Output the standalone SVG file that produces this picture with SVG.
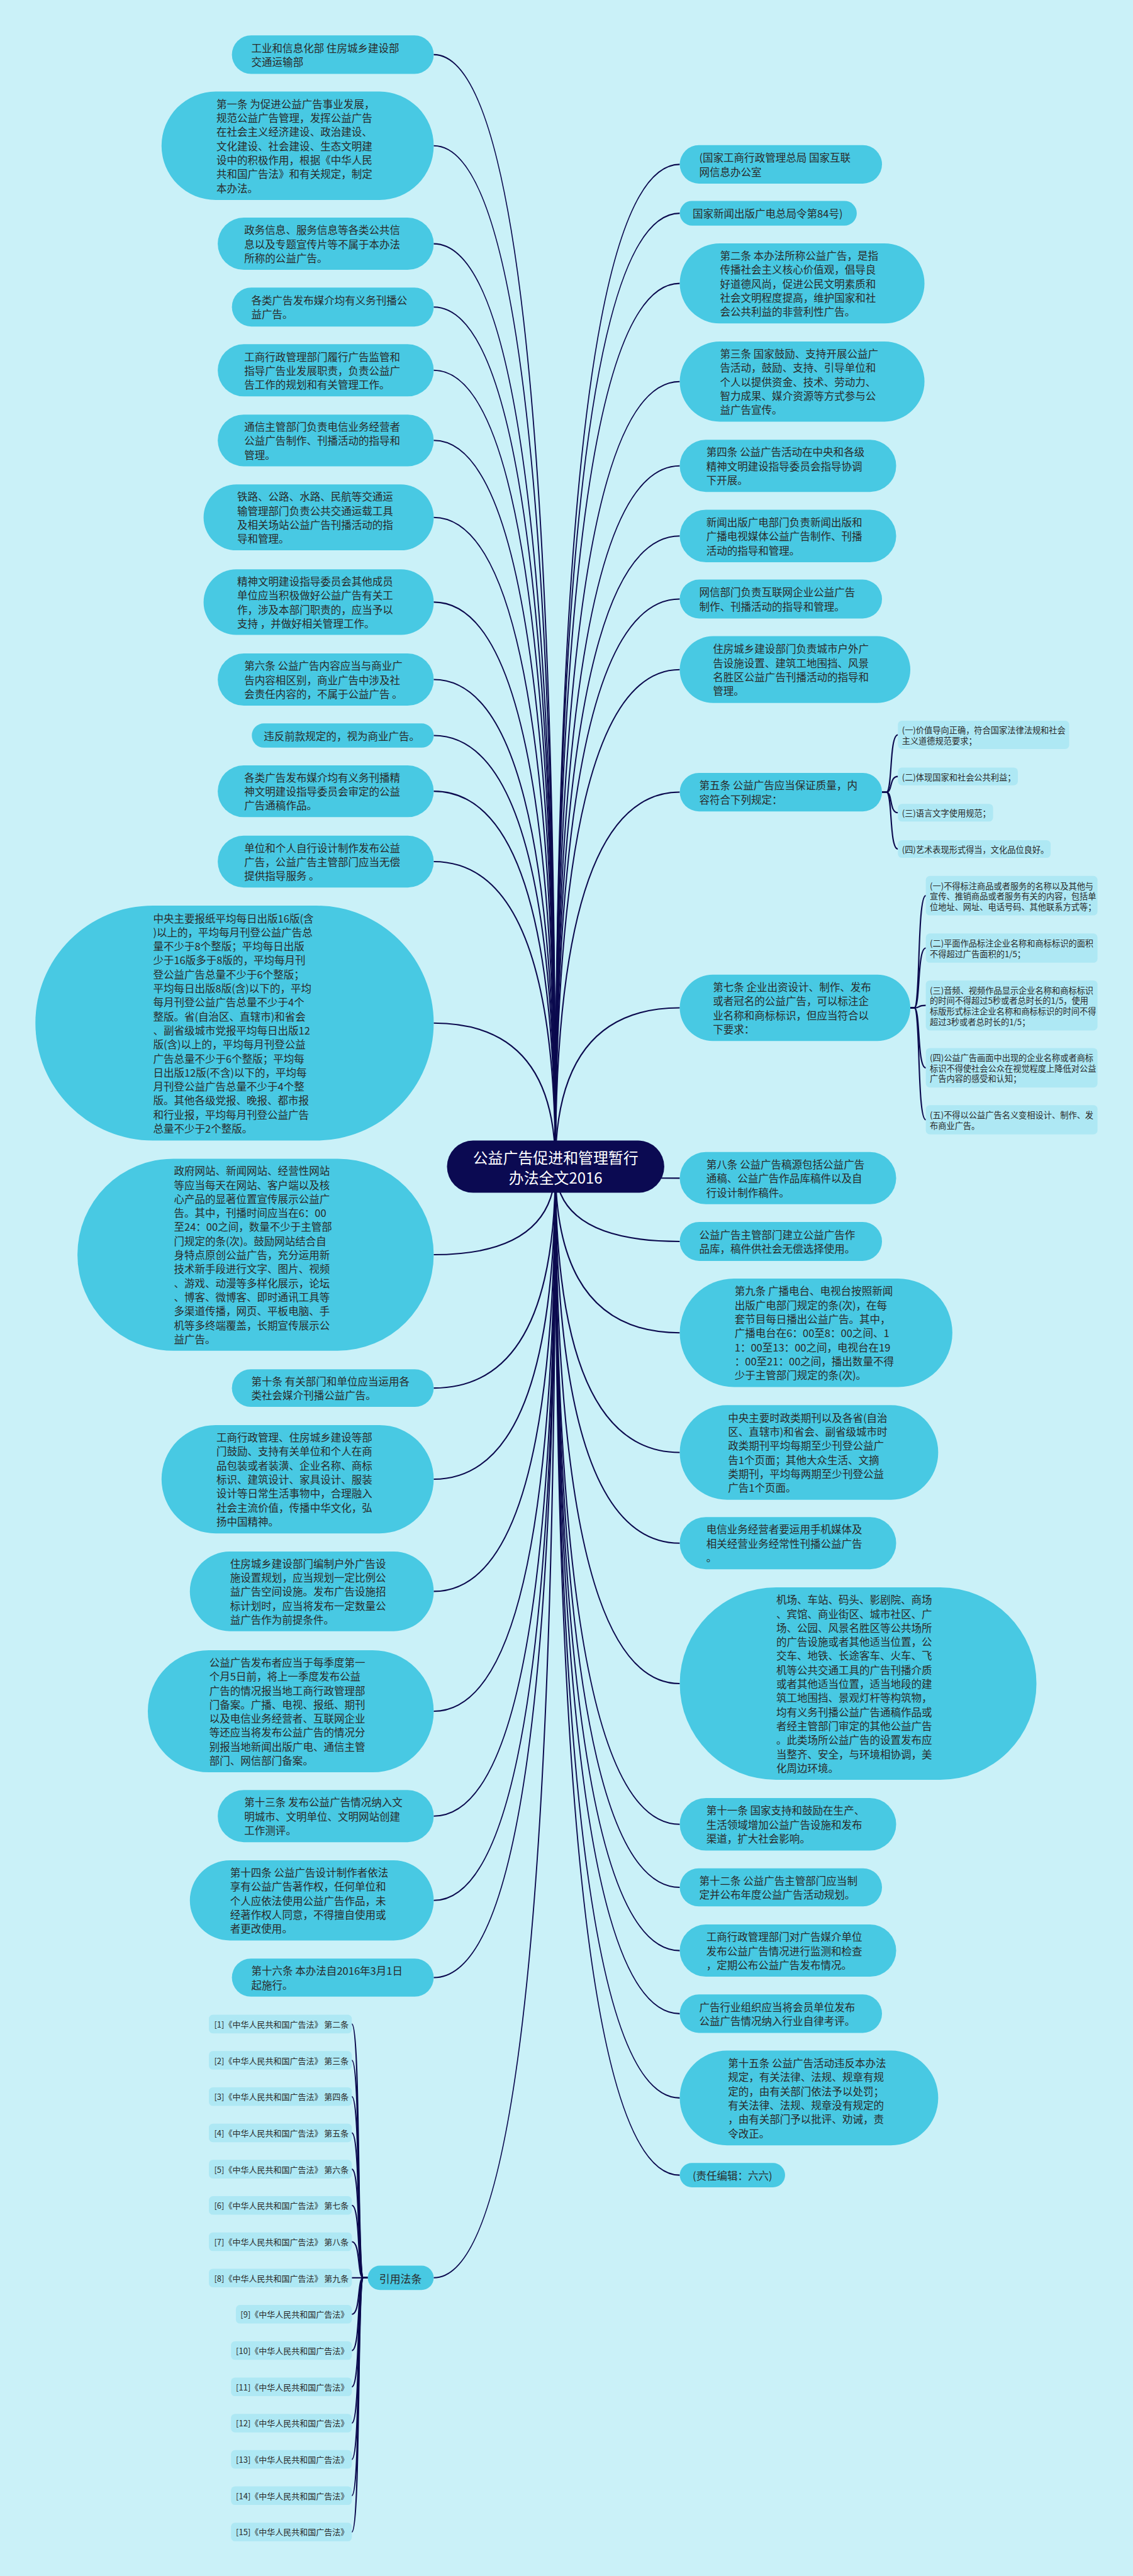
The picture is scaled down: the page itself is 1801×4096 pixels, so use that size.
<svg xmlns="http://www.w3.org/2000/svg" width="1801" height="4096" viewBox="0 0 1801 4096">
<style>
.bg{fill:#caf1f8}
.n{fill:#48c9e3}
.s{fill:#aee8f4}
.cn{fill:#0b0a52}
.t{font-family:"Noto Sans CJK SC","Noto Sans",sans-serif;font-size:23.5px;fill:#2a2a2a;dominant-baseline:central}
.st{font-size:18.8px}
.ct{font-size:18.5px;text-anchor:end}
.ctr{font-family:"Noto Sans CJK SC","Noto Sans",sans-serif;font-size:34px;fill:#ffffff;text-anchor:middle;dominant-baseline:central}
.c{fill:none;stroke:#0b0a4e;stroke-width:3}
</style>
<rect class="bg" x="0" y="0" width="1801" height="4096"/>
<g transform="scale(0.70347)">
<g id="connectors">
<path class="c" d="M1255,2636 Q1255,123.5 980,123.5"/>
<path class="c" d="M1255,2636 Q1255,329.5 980,329.5"/>
<path class="c" d="M1255,2636 Q1255,551 980,551"/>
<path class="c" d="M1255,2636 Q1255,694 980,694"/>
<path class="c" d="M1255,2636 Q1255,837 980,837"/>
<path class="c" d="M1255,2636 Q1255,995.5 980,995.5"/>
<path class="c" d="M1255,2636 Q1255,1169.5 980,1169.5"/>
<path class="c" d="M1255,2636 Q1255,1361 980,1361"/>
<path class="c" d="M1255,2636 Q1255,1536 980,1536"/>
<path class="c" d="M1255,2636 Q1255,1662.5 980,1662.5"/>
<path class="c" d="M1255,2636 Q1255,1788.5 980,1788.5"/>
<path class="c" d="M1255,2636 Q1255,1947.5 980,1947.5"/>
<path class="c" d="M1255,2636 Q1255,2312.5 980,2312.5"/>
<path class="c" d="M1255,2636 Q1255,2836 980,2836"/>
<path class="c" d="M1255,2636 Q1255,3137.5 980,3137.5"/>
<path class="c" d="M1255,2636 Q1255,3343.5 980,3343.5"/>
<path class="c" d="M1255,2636 Q1255,3597 980,3597"/>
<path class="c" d="M1255,2636 Q1255,3868 980,3868"/>
<path class="c" d="M1255,2636 Q1255,4105 980,4105"/>
<path class="c" d="M1255,2636 Q1255,4295.5 980,4295.5"/>
<path class="c" d="M1255,2636 Q1255,4470 980,4470"/>
<path class="c" d="M1255,2636 Q1255,5148.5 980,5148.5"/>
<path class="c" d="M1255,2636 Q1255,371.5 1536,371.5"/>
<path class="c" d="M1255,2636 Q1255,482 1536,482"/>
<path class="c" d="M1255,2636 Q1255,640.5 1536,640.5"/>
<path class="c" d="M1255,2636 Q1255,862.5 1536,862.5"/>
<path class="c" d="M1255,2636 Q1255,1053 1536,1053"/>
<path class="c" d="M1255,2636 Q1255,1211.5 1536,1211.5"/>
<path class="c" d="M1255,2636 Q1255,1354 1536,1354"/>
<path class="c" d="M1255,2636 Q1255,1513.5 1536,1513.5"/>
<path class="c" d="M1255,2636 Q1255,1790.5 1536,1790.5"/>
<path class="c" d="M1255,2636 Q1255,2278 1536,2278"/>
<path class="c" d="M1255,2636 Q1255,2663 1536,2663"/>
<path class="c" d="M1255,2636 Q1255,2806 1536,2806"/>
<path class="c" d="M1255,2636 Q1255,3012.5 1536,3012.5"/>
<path class="c" d="M1255,2636 Q1255,3283 1536,3283"/>
<path class="c" d="M1255,2636 Q1255,3488 1536,3488"/>
<path class="c" d="M1255,2636 Q1255,3805.5 1536,3805.5"/>
<path class="c" d="M1255,2636 Q1255,4123.5 1536,4123.5"/>
<path class="c" d="M1255,2636 Q1255,4266 1536,4266"/>
<path class="c" d="M1255,2636 Q1255,4409 1536,4409"/>
<path class="c" d="M1255,2636 Q1255,4551.5 1536,4551.5"/>
<path class="c" d="M1255,2636 Q1255,4742 1536,4742"/>
<path class="c" d="M1255,2636 Q1255,4916.5 1536,4916.5"/>
<path class="c" d="M1993,1790.5 L2003,1790.5 C2017,1790.5 2009,1661 2029,1661"/>
<path class="c" d="M1993,1790.5 L2003,1790.5 C2017,1790.5 2009,1755 2029,1755"/>
<path class="c" d="M1993,1790.5 L2003,1790.5 C2017,1790.5 2009,1837 2029,1837"/>
<path class="c" d="M1993,1790.5 L2003,1790.5 C2017,1790.5 2009,1919 2029,1919"/>
<path class="c" d="M2057,2278 L2066,2278 C2080,2278 2072,2024.5 2092,2024.5"/>
<path class="c" d="M2057,2278 L2066,2278 C2080,2278 2072,2143 2092,2143"/>
<path class="c" d="M2057,2278 L2066,2278 C2080,2278 2072,2272.5 2092,2272.5"/>
<path class="c" d="M2057,2278 L2066,2278 C2080,2278 2072,2413.5 2092,2413.5"/>
<path class="c" d="M2057,2278 L2066,2278 C2080,2278 2072,2531 2092,2531"/>
<path class="c" d="M831,5148.5 L821,5148.5 C807,5148.5 815,4575 795,4575"/>
<path class="c" d="M831,5148.5 L821,5148.5 C807,5148.5 815,4657 795,4657"/>
<path class="c" d="M831,5148.5 L821,5148.5 C807,5148.5 815,4739 795,4739"/>
<path class="c" d="M831,5148.5 L821,5148.5 C807,5148.5 815,4821 795,4821"/>
<path class="c" d="M831,5148.5 L821,5148.5 C807,5148.5 815,4903 795,4903"/>
<path class="c" d="M831,5148.5 L821,5148.5 C807,5148.5 815,4985 795,4985"/>
<path class="c" d="M831,5148.5 L821,5148.5 C807,5148.5 815,5067 795,5067"/>
<path class="c" d="M831,5148.5 L795,5148.5"/>
<path class="c" d="M831,5148.5 L821,5148.5 C807,5148.5 815,5231 795,5231"/>
<path class="c" d="M831,5148.5 L821,5148.5 C807,5148.5 815,5313 795,5313"/>
<path class="c" d="M831,5148.5 L821,5148.5 C807,5148.5 815,5395 795,5395"/>
<path class="c" d="M831,5148.5 L821,5148.5 C807,5148.5 815,5477 795,5477"/>
<path class="c" d="M831,5148.5 L821,5148.5 C807,5148.5 815,5559 795,5559"/>
<path class="c" d="M831,5148.5 L821,5148.5 C807,5148.5 815,5641 795,5641"/>
<path class="c" d="M831,5148.5 L821,5148.5 C807,5148.5 815,5723 795,5723"/>
</g>

<g id="center"><rect class="cn" x="1010" y="2578" width="491" height="118" rx="59"/>
<text class="ctr"><tspan x="1255.5" y="2614">公益广告促进和管理暂行</tspan><tspan x="1255.5" y="2660">办法全文2016</tspan></text></g>

<g id="L1"><rect class="n" x="524" y="80" width="456" height="87" rx="43.5"/><text class="t"><tspan x="568" y="107.6">工业和信息化部 住房城乡建设部</tspan><tspan x="568" y="139.4">交通运输部</tspan></text></g>
<g id="L2"><rect class="n" x="365" y="207" width="615" height="245" rx="122.5"/><text class="t"><tspan x="489" y="234.4">第一条 为促进公益广告事业发展，</tspan><tspan x="489" y="266.1">规范公益广告管理，发挥公益广告</tspan><tspan x="489" y="297.8">在社会主义经济建设、政治建设、</tspan><tspan x="489" y="329.5">文化建设、社会建设、生态文明建</tspan><tspan x="489" y="361.2">设中的积极作用，根据《中华人民</tspan><tspan x="489" y="392.9">共和国广告法》和有关规定，制定</tspan><tspan x="489" y="424.6">本办法。</tspan></text></g>
<g id="L3"><rect class="n" x="492" y="492" width="488" height="118" rx="59"/><text class="t"><tspan x="552" y="519.3">政务信息、服务信息等各类公共信</tspan><tspan x="552" y="551">息以及专题宣传片等不属于本办法</tspan><tspan x="552" y="582.7">所称的公益广告。</tspan></text></g>
<g id="L4"><rect class="n" x="524" y="650" width="456" height="88" rx="44"/><text class="t"><tspan x="568" y="678.2">各类广告发布媒介均有义务刊播公</tspan><tspan x="568" y="709.9">益广告。</tspan></text></g>
<g id="L5"><rect class="n" x="492" y="778" width="488" height="118" rx="59"/><text class="t"><tspan x="552" y="805.3">工商行政管理部门履行广告监管和</tspan><tspan x="552" y="837">指导广告业发展职责，负责公益广</tspan><tspan x="552" y="868.7">告工作的规划和有关管理工作。</tspan></text></g>
<g id="L6"><rect class="n" x="492" y="937" width="488" height="117" rx="58.5"/><text class="t"><tspan x="552" y="963.8">通信主管部门负责电信业务经营者</tspan><tspan x="552" y="995.5">公益广告制作、刊播活动的指导和</tspan><tspan x="552" y="1027.2">管理。</tspan></text></g>
<g id="L7"><rect class="n" x="460" y="1095" width="520" height="149" rx="74.5"/><text class="t"><tspan x="536" y="1122">铁路、公路、水路、民航等交通运</tspan><tspan x="536" y="1153.7">输管理部门负责公共交通运载工具</tspan><tspan x="536" y="1185.4">及相关场站公益广告刊播活动的指</tspan><tspan x="536" y="1217.1">导和管理。</tspan></text></g>
<g id="L8"><rect class="n" x="460" y="1287" width="520" height="148" rx="74"/><text class="t"><tspan x="536" y="1313.5">精神文明建设指导委员会其他成员</tspan><tspan x="536" y="1345.2">单位应当积极做好公益广告有关工</tspan><tspan x="536" y="1376.9">作，涉及本部门职责的，应当予以</tspan><tspan x="536" y="1408.6">支持 ，并做好相关管理工作。</tspan></text></g>
<g id="L9"><rect class="n" x="492" y="1477" width="488" height="118" rx="59"/><text class="t"><tspan x="552" y="1504.3">第六条 公益广告内容应当与商业广</tspan><tspan x="552" y="1536">告内容相区别，商业广告中涉及社</tspan><tspan x="552" y="1567.7">会责任内容的，不属于公益广告 。</tspan></text></g>
<g id="L10"><rect class="n" x="569" y="1635" width="411" height="55" rx="27.5"/><text class="t"><tspan x="596" y="1662.5">违反前款规定的，视为商业广告。</tspan></text></g>
<g id="L11"><rect class="n" x="492" y="1730" width="488" height="117" rx="58.5"/><text class="t"><tspan x="552" y="1756.8">各类广告发布媒介均有义务刊播精</tspan><tspan x="552" y="1788.5">神文明建设指导委员会审定的公益</tspan><tspan x="552" y="1820.2">广告通稿作品。</tspan></text></g>
<g id="L12"><rect class="n" x="492" y="1889" width="488" height="117" rx="58.5"/><text class="t"><tspan x="552" y="1915.8">单位和个人自行设计制作发布公益</tspan><tspan x="552" y="1947.5">广告，公益广告主管部门应当无偿</tspan><tspan x="552" y="1979.2">提供指导服务 。</tspan></text></g>
<g id="L13"><rect class="n" x="80" y="2047" width="900" height="531" rx="265.5"/><text class="t"><tspan x="346" y="2074.8">中央主要报纸平均每日出版16版(含</tspan><tspan x="346" y="2106.5">)以上的，平均每月刊登公益广告总</tspan><tspan x="346" y="2138.2">量不少于8个整版；平均每日出版</tspan><tspan x="346" y="2169.9">少于16版多于8版的，平均每月刊</tspan><tspan x="346" y="2201.6">登公益广告总量不少于6个整版；</tspan><tspan x="346" y="2233.3">平均每日出版8版(含)以下的，平均</tspan><tspan x="346" y="2265">每月刊登公益广告总量不少于4个</tspan><tspan x="346" y="2296.7">整版。省(自治区、直辖市)和省会</tspan><tspan x="346" y="2328.4">、副省级城市党报平均每日出版12</tspan><tspan x="346" y="2360.1">版(含)以上的，平均每月刊登公益</tspan><tspan x="346" y="2391.8">广告总量不少于6个整版；平均每</tspan><tspan x="346" y="2423.5">日出版12版(不含)以下的，平均每</tspan><tspan x="346" y="2455.2">月刊登公益广告总量不少于4个整</tspan><tspan x="346" y="2486.9">版。其他各级党报、晚报、都市报</tspan><tspan x="346" y="2518.6">和行业报，平均每月刊登公益广告</tspan><tspan x="346" y="2550.3">总量不少于2个整版。</tspan></text></g>
<g id="L14"><rect class="n" x="175" y="2619" width="805" height="434" rx="217"/><text class="t"><tspan x="393" y="2645.8">政府网站、新闻网站、经营性网站</tspan><tspan x="393" y="2677.5">等应当每天在网站、客户端以及核</tspan><tspan x="393" y="2709.2">心产品的显著位置宣传展示公益广</tspan><tspan x="393" y="2740.9">告。其中，刊播时间应当在6：00</tspan><tspan x="393" y="2772.6">至24：00之间，数量不少于主管部</tspan><tspan x="393" y="2804.3">门规定的条(次)。鼓励网站结合自</tspan><tspan x="393" y="2836">身特点原创公益广告，充分运用新</tspan><tspan x="393" y="2867.7">技术新手段进行文字、图片、视频</tspan><tspan x="393" y="2899.4">、游戏、动漫等多样化展示，论坛</tspan><tspan x="393" y="2931.1">、博客、微博客、即时通讯工具等</tspan><tspan x="393" y="2962.8">多渠道传播，网页、平板电脑、手</tspan><tspan x="393" y="2994.5">机等多终端覆盖，长期宣传展示公</tspan><tspan x="393" y="3026.2">益广告。</tspan></text></g>
<g id="L15"><rect class="n" x="524" y="3095" width="456" height="85" rx="42.5"/><text class="t"><tspan x="568" y="3121.7">第十条 有关部门和单位应当运用各</tspan><tspan x="568" y="3153.4">类社会媒介刊播公益广告。</tspan></text></g>
<g id="L16"><rect class="n" x="365" y="3221" width="615" height="245" rx="122.5"/><text class="t"><tspan x="489" y="3248.4">工商行政管理、住房城乡建设等部</tspan><tspan x="489" y="3280.1">门鼓励、支持有关单位和个人在商</tspan><tspan x="489" y="3311.8">品包装或者装潢、企业名称、商标</tspan><tspan x="489" y="3343.5">标识、建筑设计、家具设计、服装</tspan><tspan x="489" y="3375.2">设计等日常生活事物中，合理融入</tspan><tspan x="489" y="3406.9">社会主流价值，传播中华文化，弘</tspan><tspan x="489" y="3438.6">扬中国精神。</tspan></text></g>
<g id="L17"><rect class="n" x="429" y="3507" width="551" height="180" rx="90"/><text class="t"><tspan x="520" y="3533.6">住房城乡建设部门编制户外广告设</tspan><tspan x="520" y="3565.3">施设置规划，应当规划一定比例公</tspan><tspan x="520" y="3597">益广告空间设施。发布广告设施招</tspan><tspan x="520" y="3628.7">标计划时，应当将发布一定数量公</tspan><tspan x="520" y="3660.4">益广告作为前提条件。</tspan></text></g>
<g id="L18"><rect class="n" x="334" y="3730" width="646" height="276" rx="138"/><text class="t"><tspan x="473" y="3757">公益广告发布者应当于每季度第一</tspan><tspan x="473" y="3788.7">个月5日前，将上一季度发布公益</tspan><tspan x="473" y="3820.4">广告的情况报当地工商行政管理部</tspan><tspan x="473" y="3852.1">门备案。广播、电视、报纸、期刊</tspan><tspan x="473" y="3883.8">以及电信业务经营者、互联网企业</tspan><tspan x="473" y="3915.5">等还应当将发布公益广告的情况分</tspan><tspan x="473" y="3947.2">别报当地新闻出版广电、通信主管</tspan><tspan x="473" y="3978.9">部门、网信部门备案。</tspan></text></g>
<g id="L19"><rect class="n" x="492" y="4046" width="488" height="118" rx="59"/><text class="t"><tspan x="552" y="4073.3">第十三条 发布公益广告情况纳入文</tspan><tspan x="552" y="4105">明城市、文明单位、文明网站创建</tspan><tspan x="552" y="4136.7">工作测评。</tspan></text></g>
<g id="L20"><rect class="n" x="429" y="4205" width="551" height="181" rx="90.5"/><text class="t"><tspan x="520" y="4232.1">第十四条 公益广告设计制作者依法</tspan><tspan x="520" y="4263.8">享有公益广告著作权，任何单位和</tspan><tspan x="520" y="4295.5">个人应依法使用公益广告作品，未</tspan><tspan x="520" y="4327.2">经著作权人同意，不得擅自使用或</tspan><tspan x="520" y="4358.9">者更改使用。</tspan></text></g>
<g id="L21"><rect class="n" x="524" y="4427" width="456" height="86" rx="43"/><text class="t"><tspan x="568" y="4454.2">第十六条 本办法自2016年3月1日</tspan><tspan x="568" y="4485.9">起施行。</tspan></text></g>
<g id="L22"><rect class="n" x="831" y="5121" width="149" height="55" rx="27.5"/><text class="t" style="font-size:24px"><tspan x="857" y="5148.5">引用法条</tspan></text></g>

<g id="cite1"><rect class="s" x="472" y="4554" width="323" height="42" rx="9"/><text class="t ct" x="788" y="4575">[1]《中华人民共和国广告法》 第二条</text></g>
<g id="cite2"><rect class="s" x="472" y="4636" width="323" height="42" rx="9"/><text class="t ct" x="788" y="4657">[2]《中华人民共和国广告法》 第三条</text></g>
<g id="cite3"><rect class="s" x="472" y="4718" width="323" height="42" rx="9"/><text class="t ct" x="788" y="4739">[3]《中华人民共和国广告法》 第四条</text></g>
<g id="cite4"><rect class="s" x="472" y="4800" width="323" height="42" rx="9"/><text class="t ct" x="788" y="4821">[4]《中华人民共和国广告法》 第五条</text></g>
<g id="cite5"><rect class="s" x="472" y="4882" width="323" height="42" rx="9"/><text class="t ct" x="788" y="4903">[5]《中华人民共和国广告法》 第六条</text></g>
<g id="cite6"><rect class="s" x="472" y="4964" width="323" height="42" rx="9"/><text class="t ct" x="788" y="4985">[6]《中华人民共和国广告法》 第七条</text></g>
<g id="cite7"><rect class="s" x="472" y="5046" width="323" height="42" rx="9"/><text class="t ct" x="788" y="5067">[7]《中华人民共和国广告法》 第八条</text></g>
<g id="cite8"><rect class="s" x="472" y="5128" width="323" height="42" rx="9"/><text class="t ct" x="788" y="5149">[8]《中华人民共和国广告法》 第九条</text></g>
<g id="cite9"><rect class="s" x="533" y="5210" width="262" height="42" rx="9"/><text class="t ct" x="788" y="5231">[9]《中华人民共和国广告法》</text></g>
<g id="cite10"><rect class="s" x="522" y="5292" width="273" height="42" rx="9"/><text class="t ct" x="788" y="5313">[10]《中华人民共和国广告法》</text></g>
<g id="cite11"><rect class="s" x="522" y="5374" width="273" height="42" rx="9"/><text class="t ct" x="788" y="5395">[11]《中华人民共和国广告法》</text></g>
<g id="cite12"><rect class="s" x="522" y="5456" width="273" height="42" rx="9"/><text class="t ct" x="788" y="5477">[12]《中华人民共和国广告法》</text></g>
<g id="cite13"><rect class="s" x="522" y="5538" width="273" height="42" rx="9"/><text class="t ct" x="788" y="5559">[13]《中华人民共和国广告法》</text></g>
<g id="cite14"><rect class="s" x="522" y="5620" width="273" height="42" rx="9"/><text class="t ct" x="788" y="5641">[14]《中华人民共和国广告法》</text></g>
<g id="cite15"><rect class="s" x="522" y="5702" width="273" height="42" rx="9"/><text class="t ct" x="788" y="5723">[15]《中华人民共和国广告法》</text></g>

<g id="R1"><rect class="n" x="1536" y="328" width="457" height="87" rx="43.5"/><text class="t"><tspan x="1580" y="355.7">(国家工商行政管理总局 国家互联</tspan><tspan x="1580" y="387.4">网信息办公室</tspan></text></g>
<g id="R2"><rect class="n" x="1536" y="454" width="400" height="56" rx="28"/><text class="t"><tspan x="1565" y="482">国家新闻出版广电总局令第84号)</tspan></text></g>
<g id="R3"><rect class="n" x="1536" y="550" width="553" height="181" rx="90.5"/><text class="t"><tspan x="1627" y="577.1">第二条 本办法所称公益广告，是指</tspan><tspan x="1627" y="608.8">传播社会主义核心价值观，倡导良</tspan><tspan x="1627" y="640.5">好道德风尚，促进公民文明素质和</tspan><tspan x="1627" y="672.2">社会文明程度提高，维护国家和社</tspan><tspan x="1627" y="703.9">会公共利益的非营利性广告。</tspan></text></g>
<g id="R4"><rect class="n" x="1536" y="772" width="553" height="181" rx="90.5"/><text class="t"><tspan x="1627" y="799.1">第三条 国家鼓励、支持开展公益广</tspan><tspan x="1627" y="830.8">告活动，鼓励、支持、引导单位和</tspan><tspan x="1627" y="862.5">个人以提供资金、技术、劳动力、</tspan><tspan x="1627" y="894.2">智力成果、媒介资源等方式参与公</tspan><tspan x="1627" y="925.9">益广告宣传。</tspan></text></g>
<g id="R5"><rect class="n" x="1536" y="994" width="489" height="118" rx="59"/><text class="t"><tspan x="1596" y="1021.3">第四条 公益广告活动在中央和各级</tspan><tspan x="1596" y="1053">精神文明建设指导委员会指导协调</tspan><tspan x="1596" y="1084.7">下开展。</tspan></text></g>
<g id="R6"><rect class="n" x="1536" y="1152" width="489" height="119" rx="59.5"/><text class="t"><tspan x="1596" y="1179.8">新闻出版广电部门负责新闻出版和</tspan><tspan x="1596" y="1211.5">广播电视媒体公益广告制作、刊播</tspan><tspan x="1596" y="1243.2">活动的指导和管理。</tspan></text></g>
<g id="R7"><rect class="n" x="1536" y="1310" width="457" height="88" rx="44"/><text class="t"><tspan x="1580" y="1338.2">网信部门负责互联网企业公益广告</tspan><tspan x="1580" y="1369.9">制作、刊播活动的指导和管理。</tspan></text></g>
<g id="R8"><rect class="n" x="1536" y="1438" width="521" height="151" rx="75.5"/><text class="t"><tspan x="1611" y="1466">住房城乡建设部门负责城市户外广</tspan><tspan x="1611" y="1497.7">告设施设置、建筑工地围挡、风景</tspan><tspan x="1611" y="1529.4">名胜区公益广告刊播活动的指导和</tspan><tspan x="1611" y="1561.1">管理。</tspan></text></g>
<g id="R9"><rect class="n" x="1536" y="1747" width="457" height="87" rx="43.5"/><text class="t"><tspan x="1580" y="1774.7">第五条 公益广告应当保证质量，内</tspan><tspan x="1580" y="1806.4">容符合下列规定：</tspan></text></g>
<g id="R9a"><rect class="s" x="2029" y="1629" width="387" height="64" rx="9"/><text class="t st"><tspan x="2038" y="1649.5">(一)价值导向正确，符合国家法律法规和社会</tspan><tspan x="2038" y="1673">主义道德规范要求；</tspan></text></g>
<g id="R9b"><rect class="s" x="2029" y="1735" width="271" height="40" rx="9"/><text class="t st"><tspan x="2038" y="1755">(二)体现国家和社会公共利益；</tspan></text></g>
<g id="R9c"><rect class="s" x="2029" y="1817" width="215" height="40" rx="9"/><text class="t st"><tspan x="2038" y="1837">(三)语言文字使用规范；</tspan></text></g>
<g id="R9d"><rect class="s" x="2029" y="1899" width="345" height="40" rx="9"/><text class="t st"><tspan x="2038" y="1919">(四)艺术表现形式得当，文化品位良好。</tspan></text></g>
<g id="R10"><rect class="n" x="1536" y="2203" width="521" height="150" rx="75"/><text class="t"><tspan x="1611" y="2230.5">第七条 企业出资设计、制作、发布</tspan><tspan x="1611" y="2262.2">或者冠名的公益广告，可以标注企</tspan><tspan x="1611" y="2293.9">业名称和商标标识，但应当符合以</tspan><tspan x="1611" y="2325.6">下要求：</tspan></text></g>
<g id="R10a"><rect class="s" x="2092" y="1980" width="388" height="89" rx="9"/><text class="t st"><tspan x="2101" y="2000.8">(一)不得标注商品或者服务的名称以及其他与</tspan><tspan x="2101" y="2024.5">宣传、推销商品或者服务有关的内容，包括单</tspan><tspan x="2101" y="2048.2">位地址、网址、电话号码、其他联系方式等；</tspan></text></g>
<g id="R10b"><rect class="s" x="2092" y="2110" width="388" height="66" rx="9"/><text class="t st"><tspan x="2101" y="2131.2">(二)平面作品标注企业名称和商标标识的面积</tspan><tspan x="2101" y="2154.9">不得超过广告面积的1/5；</tspan></text></g>
<g id="R10c"><rect class="s" x="2092" y="2216" width="388" height="113" rx="9"/><text class="t st"><tspan x="2101" y="2237">(三)音频、视频作品显示企业名称和商标标识</tspan><tspan x="2101" y="2260.7">的时间不得超过5秒或者总时长的1/5，使用</tspan><tspan x="2101" y="2284.4">标版形式标注企业名称和商标标识的时间不得</tspan><tspan x="2101" y="2308">超过3秒或者总时长的1/5；</tspan></text></g>
<g id="R10d"><rect class="s" x="2092" y="2369" width="388" height="89" rx="9"/><text class="t st"><tspan x="2101" y="2389.8">(四)公益广告画面中出现的企业名称或者商标</tspan><tspan x="2101" y="2413.5">标识不得使社会公众在视觉程度上降低对公益</tspan><tspan x="2101" y="2437.2">广告内容的感受和认知；</tspan></text></g>
<g id="R10e"><rect class="s" x="2092" y="2498" width="388" height="66" rx="9"/><text class="t st"><tspan x="2101" y="2519.2">(五)不得以公益广告名义变相设计、制作、发</tspan><tspan x="2101" y="2542.9">布商业广告。</tspan></text></g>
<g id="R11"><rect class="n" x="1536" y="2604" width="489" height="118" rx="59"/><text class="t"><tspan x="1596" y="2631.3">第八条 公益广告稿源包括公益广告</tspan><tspan x="1596" y="2663">通稿、公益广告作品库稿件以及自</tspan><tspan x="1596" y="2694.7">行设计制作稿件。</tspan></text></g>
<g id="R12"><rect class="n" x="1536" y="2762" width="457" height="88" rx="44"/><text class="t"><tspan x="1580" y="2790.2">公益广告主管部门建立公益广告作</tspan><tspan x="1580" y="2821.9">品库，稿件供社会无偿选择使用。</tspan></text></g>
<g id="R13"><rect class="n" x="1536" y="2890" width="616" height="245" rx="122.5"/><text class="t"><tspan x="1660" y="2917.4">第九条 广播电台、电视台按照新闻</tspan><tspan x="1660" y="2949.1">出版广电部门规定的条(次)，在每</tspan><tspan x="1660" y="2980.8">套节目每日播出公益广告。其中，</tspan><tspan x="1660" y="3012.5">广播电台在6：00至8：00之间、1</tspan><tspan x="1660" y="3044.2">1：00至13：00之间，电视台在19</tspan><tspan x="1660" y="3075.9">：00至21：00之间，播出数量不得</tspan><tspan x="1660" y="3107.6">少于主管部门规定的条(次)。</tspan></text></g>
<g id="R14"><rect class="n" x="1536" y="3176" width="584" height="214" rx="107"/><text class="t"><tspan x="1645" y="3203.8">中央主要时政类期刊以及各省(自治</tspan><tspan x="1645" y="3235.5">区、直辖市)和省会、副省级城市时</tspan><tspan x="1645" y="3267.2">政类期刊平均每期至少刊登公益广</tspan><tspan x="1645" y="3298.9">告1个页面；其他大众生活、文摘</tspan><tspan x="1645" y="3330.6">类期刊，平均每两期至少刊登公益</tspan><tspan x="1645" y="3362.3">广告1个页面。</tspan></text></g>
<g id="R15"><rect class="n" x="1536" y="3429" width="489" height="118" rx="59"/><text class="t"><tspan x="1596" y="3456.3">电信业务经营者要运用手机媒体及</tspan><tspan x="1596" y="3488">相关经营业务经常性刊播公益广告</tspan><tspan x="1596" y="3519.7">。</tspan></text></g>
<g id="R16"><rect class="n" x="1536" y="3588" width="806" height="435" rx="217.5"/><text class="t"><tspan x="1754" y="3615.3">机场、车站、码头、影剧院、商场</tspan><tspan x="1754" y="3647">、宾馆、商业街区、城市社区、广</tspan><tspan x="1754" y="3678.7">场、公园、风景名胜区等公共场所</tspan><tspan x="1754" y="3710.4">的广告设施或者其他适当位置，公</tspan><tspan x="1754" y="3742.1">交车、地铁、长途客车、火车、飞</tspan><tspan x="1754" y="3773.8">机等公共交通工具的广告刊播介质</tspan><tspan x="1754" y="3805.5">或者其他适当位置，适当地段的建</tspan><tspan x="1754" y="3837.2">筑工地围挡、景观灯杆等构筑物，</tspan><tspan x="1754" y="3868.9">均有义务刊播公益广告通稿作品或</tspan><tspan x="1754" y="3900.6">者经主管部门审定的其他公益广告</tspan><tspan x="1754" y="3932.3">。此类场所公益广告的设置发布应</tspan><tspan x="1754" y="3964">当整齐、安全，与环境相协调，美</tspan><tspan x="1754" y="3995.7">化周边环境。</tspan></text></g>
<g id="R17"><rect class="n" x="1536" y="4064" width="489" height="119" rx="59.5"/><text class="t"><tspan x="1596" y="4091.8">第十一条 国家支持和鼓励在生产、</tspan><tspan x="1596" y="4123.5">生活领域增加公益广告设施和发布</tspan><tspan x="1596" y="4155.2">渠道，扩大社会影响。</tspan></text></g>
<g id="R18"><rect class="n" x="1536" y="4223" width="457" height="86" rx="43"/><text class="t"><tspan x="1580" y="4250.2">第十二条 公益广告主管部门应当制</tspan><tspan x="1580" y="4281.9">定并公布年度公益广告活动规划。</tspan></text></g>
<g id="R19"><rect class="n" x="1536" y="4350" width="489" height="118" rx="59"/><text class="t"><tspan x="1596" y="4377.3">工商行政管理部门对广告媒介单位</tspan><tspan x="1596" y="4409">发布公益广告情况进行监测和检查</tspan><tspan x="1596" y="4440.7">，定期公布公益广告发布情况。</tspan></text></g>
<g id="R20"><rect class="n" x="1536" y="4508" width="457" height="87" rx="43.5"/><text class="t"><tspan x="1580" y="4535.7">广告行业组织应当将会员单位发布</tspan><tspan x="1580" y="4567.4">公益广告情况纳入行业自律考评。</tspan></text></g>
<g id="R21"><rect class="n" x="1536" y="4635" width="584" height="214" rx="107"/><text class="t"><tspan x="1645" y="4662.8">第十五条 公益广告活动违反本办法</tspan><tspan x="1645" y="4694.5">规定，有关法律、法规、规章有规</tspan><tspan x="1645" y="4726.2">定的，由有关部门依法予以处罚；</tspan><tspan x="1645" y="4757.9">有关法律、法规、规章没有规定的</tspan><tspan x="1645" y="4789.6">，由有关部门予以批评、劝诫，责</tspan><tspan x="1645" y="4821.3">令改正。</tspan></text></g>
<g id="R22"><rect class="n" x="1536" y="4889" width="238" height="55" rx="27.5"/><text class="t"><tspan x="1565" y="4916.5">(责任编辑：六六)</tspan></text></g>
</g>
</svg>
